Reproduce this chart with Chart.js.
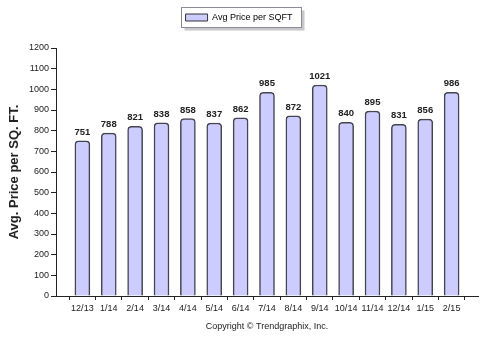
<!DOCTYPE html>
<html>
<head>
<meta charset="utf-8">
<script src="https://cdn.jsdelivr.net/npm/chart.js@4/dist/chart.umd.min.js"></script>
<style>
  html, body { margin: 0; padding: 0; background: #fff; }
  #wrap { width: 484px; height: 337px; }
</style>
</head>
<body>
<div id="wrap"><canvas id="c" width="484" height="337"></canvas></div>
<script>
// Monthly average price per square foot
const months = ['12/13', '1/14', '2/14', '3/14', '4/14', '5/14', '6/14', '7/14',
                '8/14', '9/14', '10/14', '11/14', '12/14', '1/15', '2/15'];
const avgPricePerSqft = [751, 788, 821, 838, 858, 837, 862, 985,
                         872, 1021, 840, 895, 831, 856, 986];
const yTicks = [0, 100, 200, 300, 400, 500, 600, 700, 800, 900, 1000, 1100, 1200];

const FONT = "Arial, 'Liberation Sans', sans-serif";
const INK = '#222';

// Bars sit at slots 1..N on a 0..N+1 linear axis
const points = months.map((m, i) => ({ x: i + 1, y: avgPricePerSqft[i] }));

// Value labels above each bar
const valueLabels = {
  id: 'valueLabels',
  afterDatasetsDraw(chart) {
    const ctx = chart.ctx;
    const meta = chart.getDatasetMeta(0);
    ctx.save();
    ctx.font = 'bold 9.5px ' + FONT;
    ctx.fillStyle = INK;
    ctx.textAlign = 'center';
    ctx.textBaseline = 'bottom';
    meta.data.forEach((bar, i) => {
      ctx.fillText(String(avgPricePerSqft[i]), bar.x, bar.y - 4);
    });
    ctx.restore();
  }
};

// Extra room between the legend and the plot
const legendGap = {
  id: 'legendGap',
  beforeLayout(chart) {
    const lg = chart.legend;
    if (lg && !lg._gapWrapped) {
      const fit = lg.fit.bind(lg);
      lg.fit = function () { fit(); this.height += 16; };
      lg._gapWrapped = true;
    }
  }
};

// Framed legend box with a soft drop shadow
const legendFrame = {
  id: 'legendFrame',
  beforeDraw(chart) {
    const lg = chart.legend;
    if (!lg || !lg.legendHitBoxes || !lg.legendHitBoxes.length) return;
    const hb = lg.legendHitBoxes[0];
    const x = Math.round(hb.left) - 4.5, y = Math.round(hb.top + hb.height / 2) - 10.5;
    const w = Math.round(hb.width) + 13, h = 20;
    const ctx = chart.ctx;
    ctx.save();
    ctx.fillStyle = '#c8c8c8';
    ctx.fillRect(x + 3, y + 3, w, h);
    ctx.fillStyle = '#fff';
    ctx.fillRect(x, y, w, h);
    ctx.strokeStyle = '#8a8a9a';
    ctx.lineWidth = 1;
    ctx.strokeRect(x, y, w, h);
    ctx.restore();
  }
};

new Chart(document.getElementById('c'), {
  type: 'bar',
  data: {
    datasets: [{
      label: 'Avg Price per SQFT',
      data: points,
      backgroundColor: '#ccccff',
      borderColor: '#44444f',
      borderWidth: 1.5,
      borderSkipped: 'bottom',
      borderRadius: { topLeft: 4, topRight: 4, bottomLeft: 0, bottomRight: 0 },
      barThickness: 15
    }]
  },
  options: {
    responsive: false,
    animation: false,
    devicePixelRatio: 1,
    layout: { padding: { top: 3, right: 6, bottom: 0, left: 0 } },
    plugins: {
      legend: {
        display: true,
        position: 'top',
        labels: {
          boxWidth: 22,
          boxHeight: 7,
          padding: 10,
          color: INK,
          font: { family: FONT, size: 9 },
          generateLabels() {
            return [{
              text: 'Avg Price per SQFT',
              fillStyle: '#ccccff',
              strokeStyle: '#333',
              lineWidth: 1,
              datasetIndex: 0
            }];
          }
        }
      },
      tooltip: { enabled: false }
    },
    scales: {
      x: {
        type: 'linear',
        offset: false,
        min: 0,
        max: months.length + 1,
        afterBuildTicks(scale) {
          const t = [];
          for (let v = 0; v <= months.length + 1; v++) t.push({ value: v });
          scale.ticks = t;
        },
        afterFit(scale) { scale.height = 41; },
        ticks: {
          autoSkip: false,
          maxRotation: 0,
          padding: 3,
          color: INK,
          font: { family: FONT, size: 9 },
          callback(v) { return (v >= 1 && v <= months.length) ? months[v - 1] : ''; }
        },
        grid: { drawOnChartArea: false, tickLength: 4, color: INK, lineWidth: 1 },
        border: { color: INK, width: 1 },
        title: {
          display: true,
          text: 'Copyright © Trendgraphix, Inc.',
          color: INK,
          font: { family: FONT, size: 9 },
          padding: { top: 0, bottom: 5 }
        }
      },
      y: {
        min: 0,
        max: 1200,
        afterBuildTicks(scale) { scale.ticks = yTicks.map(v => ({ value: v })); },
        afterFit(scale) { scale.width = 56; },
        ticks: {
          padding: 2,
          color: INK,
          font: { family: FONT, size: 9 },
          callback(v) { return String(v); }
        },
        grid: { drawOnChartArea: false, tickLength: 5, color: INK, lineWidth: 1 },
        border: { color: INK, width: 1 },
        title: {
          display: true,
          text: 'Avg. Price per SQ. FT.',
          color: INK,
          font: { family: FONT, size: 13, weight: 'bold' },
          padding: { top: 7, bottom: 0 }
        }
      }
    }
  },
  plugins: [legendGap, legendFrame, valueLabels]
});
</script>
</body>
</html>
